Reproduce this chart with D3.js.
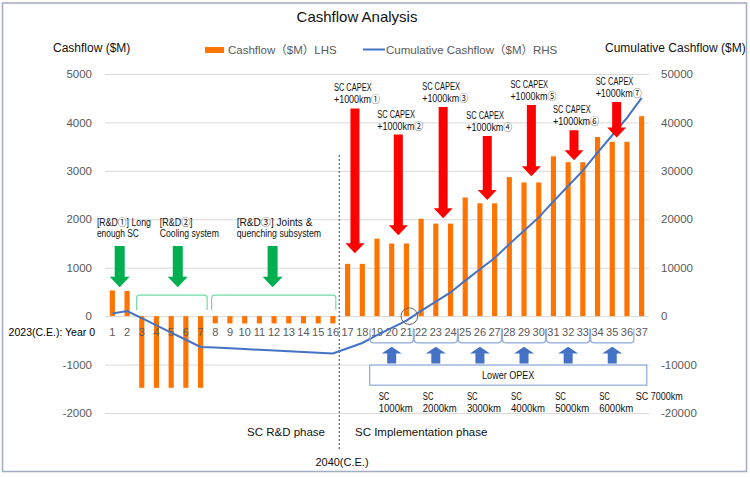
<!DOCTYPE html>
<html><head><meta charset="utf-8">
<script src="https://cdn.jsdelivr.net/npm/d3@7"></script>
<style>
body{margin:0;background:#fff;}
svg{display:block;}
text{font-family:"Liberation Sans","Noto Sans CJK JP",sans-serif;}
</style>
</head><body>
<svg id="c" width="750" height="477"></svg>
<script>
// ---------- data ----------
const categories = ["1","2","3","4","5","6","7","8","9","10","11","12","13","14","15","16","17","18","19","20","21","22","23","24","25","26","27","28","29","30","31","32","33","34","35","36","37"];
const cashflow = [530,520,-1480,-1480,-1480,-1480,-1480,-150,-150,-150,-150,-150,-150,-150,-150,-150,1080,1080,1600,1500,1500,2010,1910,1910,2450,2330,2330,2870,2760,2760,3300,3180,3180,3700,3600,3600,4130];
const cumulative = [530,1050,-430,-1910,-3390,-4870,-6350,-6500,-6650,-6800,-6950,-7100,-7250,-7400,-7550,-7700,-6620,-5540,-3940,-2440,-940,1070,2980,4890,7340,9670,12000,14870,17630,20390,23690,26870,30050,33750,37350,40950,45080];
const leftTicks = [-2000,-1000,0,1000,2000,3000,4000,5000];
const rightTicks = [-20000,-10000,0,10000,20000,30000,40000,50000];
const capexNames = ["+1000km①","+1000km②","+1000km③","+1000km④","+1000km⑤","+1000km⑥","+1000km⑦"];
const capexPos = [17.5,20.45,23.5,26.5,29.5,32.4,35.3];
const capexTop = [4290,3750,4320,3720,4360,3840,4420];
const capexTip = [1300,1670,2020,2400,2890,3220,3690];
const rdLines = [["[R&D①] Long","enough SC"],["[R&D②]","Cooling system"],["[R&D③] Joints &","quenching subsystem"]];
const rdWidths = [[54,42],[32.7,59],[75.7,84.3]];
const rdArrowPos = [1.5,5.45,11.9];
const rdTextPos = [-0.05,4.23,9.46];
const rdBrackets = [[2.65,7.45],[7.75,16.2]];
const opexGroups = [[19,21],[22,24],[25,27],[28,30],[31,33],[34,36]];
const scLengths = ["1000km","2000km","3000km","4000km","5000km","6000km"];

// ---------- setup ----------
const svg = d3.select("#c");
const x = d3.scaleBand().domain(categories).range([105,649]).paddingInner(0.65).paddingOuter(0.325);
const yL = d3.scaleLinear().domain([-2000,5000]).range([413,74]);
const yR = d3.scaleLinear().domain([-20000,50000]).range([413,74]);
const xPos = p => x(categories[0]) + x.bandwidth()/2 + (p-1)*x.step();
const xc = c => x(c) + x.bandwidth()/2;

// condensed annotation text (Calibri-like width via textLength)
function ctext(px, py, str, w, size, anchor){
  const t = svg.append("text").attr("x",px).attr("y",py).attr("dy","0.35em")
    .attr("font-size",size||10).attr("fill","#111").attr("text-anchor",anchor||"start").text(str);
  if (w) t.attr("textLength",w).attr("lengthAdjust","spacingAndGlyphs");
  return t;
}

// border
svg.append("rect").attr("x",2.5).attr("y",3).attr("width",744).attr("height",468.5)
  .attr("fill","#fff").attr("stroke","#a3abc2").attr("stroke-width",1.5);

// title
svg.append("text").attr("x",357).attr("y",17).attr("dy","0.35em").attr("text-anchor","middle")
  .attr("font-size",15).attr("fill","#111").text("Cashflow Analysis");

// axis titles
svg.append("text").attr("x",53).attr("y",48).attr("dy","0.35em").attr("font-size",12).attr("fill","#111").text("Cashflow ($M)");
svg.append("text").attr("x",605).attr("y",48).attr("dy","0.35em").attr("font-size",12).attr("fill","#111").text("Cumulative Cashflow ($M)");

// legend
svg.append("rect").attr("x",205).attr("y",47).attr("width",19).attr("height",6).attr("fill","#ff7400");
svg.append("text").attr("x",228).attr("y",50).attr("dy","0.35em").attr("font-size",11.5).attr("fill","#595959").text("Cashflow（$M）LHS");
svg.append("line").attr("x1",363).attr("x2",385).attr("y1",49.5).attr("y2",49.5).attr("stroke","#4472c4").attr("stroke-width",2);
svg.append("text").attr("x",386).attr("y",50).attr("dy","0.35em").attr("font-size",11.5).attr("fill","#595959").text("Cumulative Cashflow（$M）RHS");

// left axis + grid
const gL = svg.append("g").attr("transform","translate(105,0)")
  .call(d3.axisLeft(yL).tickValues(leftTicks).tickSize(-544).tickPadding(13).tickFormat(d=>String(d)));
gL.select(".domain").remove();
gL.selectAll("line").attr("stroke","#d9d9d9");
gL.selectAll("text").attr("font-size",11.5).attr("fill","#595959").attr("font-family",null);

// right axis
const gR = svg.append("g").attr("transform","translate(649,0)")
  .call(d3.axisRight(yR).tickValues(rightTicks).tickSize(0).tickPadding(12).tickFormat(d=>String(d)));
gR.select(".domain").remove();
gR.selectAll("text").attr("font-size",11.5).attr("fill","#595959").attr("font-family",null);

// bars
svg.append("g").selectAll("rect").data(cashflow).join("rect")
  .attr("x",(d,i)=>x(categories[i])).attr("width",x.bandwidth())
  .attr("y",d=>yL(Math.max(0,d))).attr("height",d=>Math.abs(yL(d)-yL(0)))
  .attr("fill","#ff7400");

// bottom category axis
const gB = svg.append("g").attr("transform",`translate(0,${yL(0)})`)
  .call(d3.axisBottom(x).tickSize(0).tickPadding(12));
gB.select(".domain").remove();
gB.selectAll("text").attr("font-size",11).attr("fill","#595959").attr("font-family",null);
svg.append("text").attr("x",95).attr("y",332).attr("dy","0.35em").attr("text-anchor","end")
  .attr("font-size",10.5).attr("fill","#000").text("2023(C.E.): Year 0");

// phase divider
const divX = (xc("16")+xc("17"))/2 - 1;
svg.append("line").attr("x1",divX).attr("x2",divX).attr("y1",155).attr("y2",450)
  .attr("stroke","#444").attr("stroke-width",1).attr("stroke-dasharray","2,2");
svg.append("text").attr("x",325).attr("y",432).attr("dy","0.35em").attr("text-anchor","end").attr("font-size",11.5).attr("fill","#111").text("SC R&D phase");
svg.append("text").attr("x",355).attr("y",432).attr("dy","0.35em").attr("font-size",11.5).attr("fill","#111").text("SC Implementation phase");
svg.append("text").attr("x",342).attr("y",462).attr("dy","0.35em").attr("text-anchor","middle").attr("font-size",11).attr("fill","#111").text("2040(C.E.)");

// cumulative line
svg.append("path").datum(cumulative)
  .attr("d",d3.line().x((d,i)=>xc(categories[i])).y(d=>yR(d)))
  .attr("fill","none").attr("stroke","#4472c4").attr("stroke-width",2);

// break-even circle
svg.append("circle").attr("cx",xPos(21.2)).attr("cy",yR(0)).attr("r",8.3)
  .attr("fill","none").attr("stroke","#666").attr("stroke-width",1);

// shape helpers
function arrowPath(cx, y0, y1, sw, hw, hh){
  const dir = y1 > y0 ? 1 : -1;
  const yh = y1 - dir*hh;
  return `M${cx-sw/2},${y0}L${cx+sw/2},${y0}L${cx+sw/2},${yh}L${cx+hw/2},${yh}L${cx},${y1}L${cx-hw/2},${yh}L${cx-sw/2},${yh}Z`;
}
function bracketPath(x0,x1,yEdge,yEnd,r){
  const dir = yEnd > yEdge ? 1 : -1;
  return `M${x0},${yEnd}L${x0},${yEdge+dir*r}Q${x0},${yEdge} ${x0+r},${yEdge}L${x1-r},${yEdge}Q${x1},${yEdge} ${x1},${yEdge+dir*r}L${x1},${yEnd}`;
}

// R&D annotations
rdLines.forEach((lines,i)=>{
  lines.forEach((s,j)=>ctext(xPos(rdTextPos[i]), 222+j*11.8, s, rdWidths[i][j], 10));
});
svg.append("g").selectAll("path").data(rdArrowPos).join("path")
  .attr("d",p=>arrowPath(xPos(p), yL(1450), yL(595), 10, 20, 10.5)).attr("fill","#00b050");
svg.append("g").selectAll("path").data(rdBrackets).join("path")
  .attr("d",b=>bracketPath(xPos(b[0]),xPos(b[1]),yL(435),yL(125),3))
  .attr("fill","none").attr("stroke","#72dda6").attr("stroke-width",1.2);

// CAPEX red arrows
svg.append("g").selectAll("path").data(capexPos).join("path")
  .attr("d",(p,i)=>arrowPath(xPos(p), yL(capexTop[i]), yL(capexTip[i]), 9, 19, 10)).attr("fill","#ff0000");
capexPos.forEach((p,i)=>{
  const top = yL(capexTop[i]);
  ctext(xPos(p)-21, top-20.5, "SC CAPEX", 37.7, 10);
  ctext(xPos(p)-21, top-8.5, capexNames[i], 46, 10);
});

// OPEX brackets and arrows
svg.append("g").selectAll("path").data(opexGroups).join("path")
  .attr("d",g=>bracketPath(xPos(g[0]-0.47),xPos(g[1]+0.47),yR(-5500),yR(-2550),3))
  .attr("fill","none").attr("stroke","#8eaadc").attr("stroke-width",1.2);
svg.append("g").selectAll("path").data(opexGroups).join("path")
  .attr("d",g=>arrowPath(xPos((g[0]+g[1])/2), yR(-9770), yR(-6300), 9, 20, 6.8)).attr("fill","#4472c4");
svg.append("rect").attr("x",xPos(18.5)).attr("y",yR(-10100)).attr("width",xPos(37.35)-xPos(18.5)).attr("height",yR(-14250)-yR(-10100))
  .attr("fill","#fff").attr("stroke","#8eaadc").attr("stroke-width",1.2);
ctext((xPos(18.5)+xPos(37.35))/2, yR(-12170), "Lower OPEX", 52.3, 10, "middle");

opexGroups.forEach((g,i)=>{
  const cx = xPos((g[0]+g[1])/2) - 13;
  ctext(cx, 396.7, "SC", 10.7, 10);
  ctext(cx, 408.5, scLengths[i], 34, 10);
});
ctext(xc("37")-6, 396.7, "SC 7000km", 47, 10);
</script>
</body></html>
